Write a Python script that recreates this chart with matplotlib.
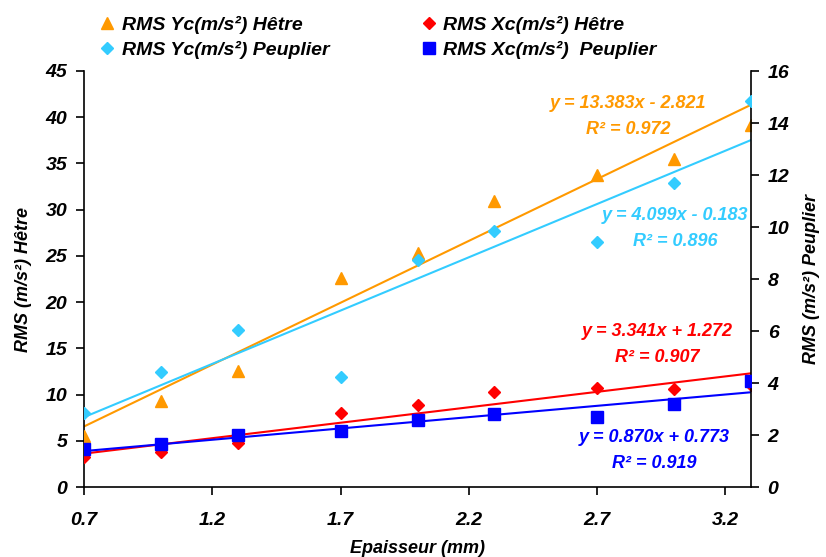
import matplotlib
matplotlib.use("Agg")
import matplotlib.pyplot as plt
from matplotlib.ticker import FixedLocator

# thickness (mm)
epaisseur = [0.7, 1.0, 1.3, 1.7, 2.0, 2.3, 2.7, 3.0, 3.3]

# Hêtre on the left axis
yc_hetre = [5.5, 9.3, 12.5, 22.6, 25.3, 30.9, 33.8, 35.5, 39.2]
xc_hetre = [3.2, 3.8, 4.8, 8.0, 8.9, 10.3, 10.7, 10.6, 11.0]

# Peuplier on the right axis
yc_peuplier = [2.84, 4.44, 6.02, 4.25, 8.73, 9.85, 9.44, 11.71, 14.83]
xc_peuplier = [1.46, 1.66, 2.01, 2.16, 2.59, 2.82, 2.68, 3.21, 4.07]

# trend lines as printed on the chart: (slope, intercept, r2)
fit_yc_hetre = (13.383, -2.821, 0.972)
fit_xc_hetre = (3.341, 1.272, 0.907)
fit_yc_peuplier = (4.099, -0.183, 0.896)
fit_xc_peuplier = (0.870, 0.773, 0.919)

ORANGE = "#FF9900"
RED = "#FF0000"
CYAN = "#33CCFF"
BLUE = "#0000FF"

plt.rcParams["font.family"] = ["Liberation Sans", "DejaVu Sans"]
plt.rcParams["font.weight"] = "bold"
plt.rcParams["font.style"] = "italic"
plt.rcParams["axes.labelweight"] = "bold"
plt.rcParams["font.size"] = 13

fig = plt.figure(figsize=(8.26, 5.57), dpi=100)
ax = fig.add_axes([84 / 826, 1 - 487 / 557, (751 - 84) / 826, (487 - 71) / 557])
ax2 = ax.twinx()

x0, x1 = epaisseur[0], epaisseur[-1]


def trend(a, fit, color):
    m, b, _ = fit
    a.plot([x0, x1], [m * x0 + b, m * x1 + b], color=color, lw=1.5, zorder=2)


trend(ax, fit_yc_hetre, ORANGE)
trend(ax, fit_xc_hetre, RED)
trend(ax2, fit_yc_peuplier, CYAN)
trend(ax2, fit_xc_peuplier, BLUE)

h1, = ax.plot(epaisseur, yc_hetre, "^", color=ORANGE, ms=9, ls="none", zorder=3,
              label="RMS Yc(m/s²) Hêtre")
h2, = ax.plot(epaisseur, xc_hetre, "D", color=RED, ms=6.2, ls="none", zorder=3,
              label="RMS Xc(m/s²) Hêtre")
h3, = ax2.plot(epaisseur, yc_peuplier, "D", color=CYAN, ms=6.2, ls="none", zorder=3,
               label="RMS Yc(m/s²) Peuplier")
h4, = ax2.plot(epaisseur, xc_peuplier, "s", color=BLUE, ms=8, ls="none", zorder=3,
               label="RMS Xc(m/s²)  Peuplier")

ax.set_xlim(0.7, 3.3)
ax.set_ylim(0, 45)
ax2.set_ylim(0, 16)
ax.xaxis.set_major_locator(FixedLocator([0.7, 1.2, 1.7, 2.2, 2.7, 3.2]))
ax.set_yticks(range(0, 46, 5))
ax2.set_yticks(range(0, 17, 2))

for a in (ax, ax2):
    a.spines["top"].set_visible(False)
    for s in a.spines.values():
        s.set_linewidth(1.2)
    a.tick_params(direction="out", length=6, width=1.2, labelsize=14, pad=6)
ax.spines["right"].set_visible(False)
ax2.spines["left"].set_visible(False)
ax2.spines["bottom"].set_visible(False)
ax.tick_params(axis="x", pad=12)

ax.set_xlabel("Epaisseur (mm)", fontsize=13, labelpad=8)
ax.set_ylabel("RMS (m/s²) Hêtre", fontsize=13, labelpad=10)
ax2.set_ylabel("RMS (m/s²) Peuplier", fontsize=13, labelpad=10)


# equations
def label(fit, color, xp, yp):
    m, b, r2 = fit
    sign = "+" if b >= 0 else "-"
    fig.text(xp / 826, 1 - yp / 557, f"y = {m:.3f}x {sign} {abs(b):.3f}",
             color=color, ha="center", va="center", fontsize=13)
    fig.text(xp / 826, 1 - (yp + 27) / 557, f"R² = {r2:.3f}",
             color=color, ha="center", va="center", fontsize=13)


label(fit_yc_hetre, ORANGE, 628, 103)
label(fit_yc_peuplier, CYAN, 675, 215)
label(fit_xc_hetre, RED, 657, 331)
label(fit_xc_peuplier, BLUE, 654, 437)

fig.legend(handles=[h1, h3, h2, h4], ncol=2, loc="upper left",
           bbox_to_anchor=(80 / 826, 1 + 2 / 557), frameon=False,
           numpoints=1, handlelength=1.0, handletextpad=0.25,
           columnspacing=4.6, labelspacing=0.38, fontsize=14)

fig.savefig("out.png", dpi=100)
